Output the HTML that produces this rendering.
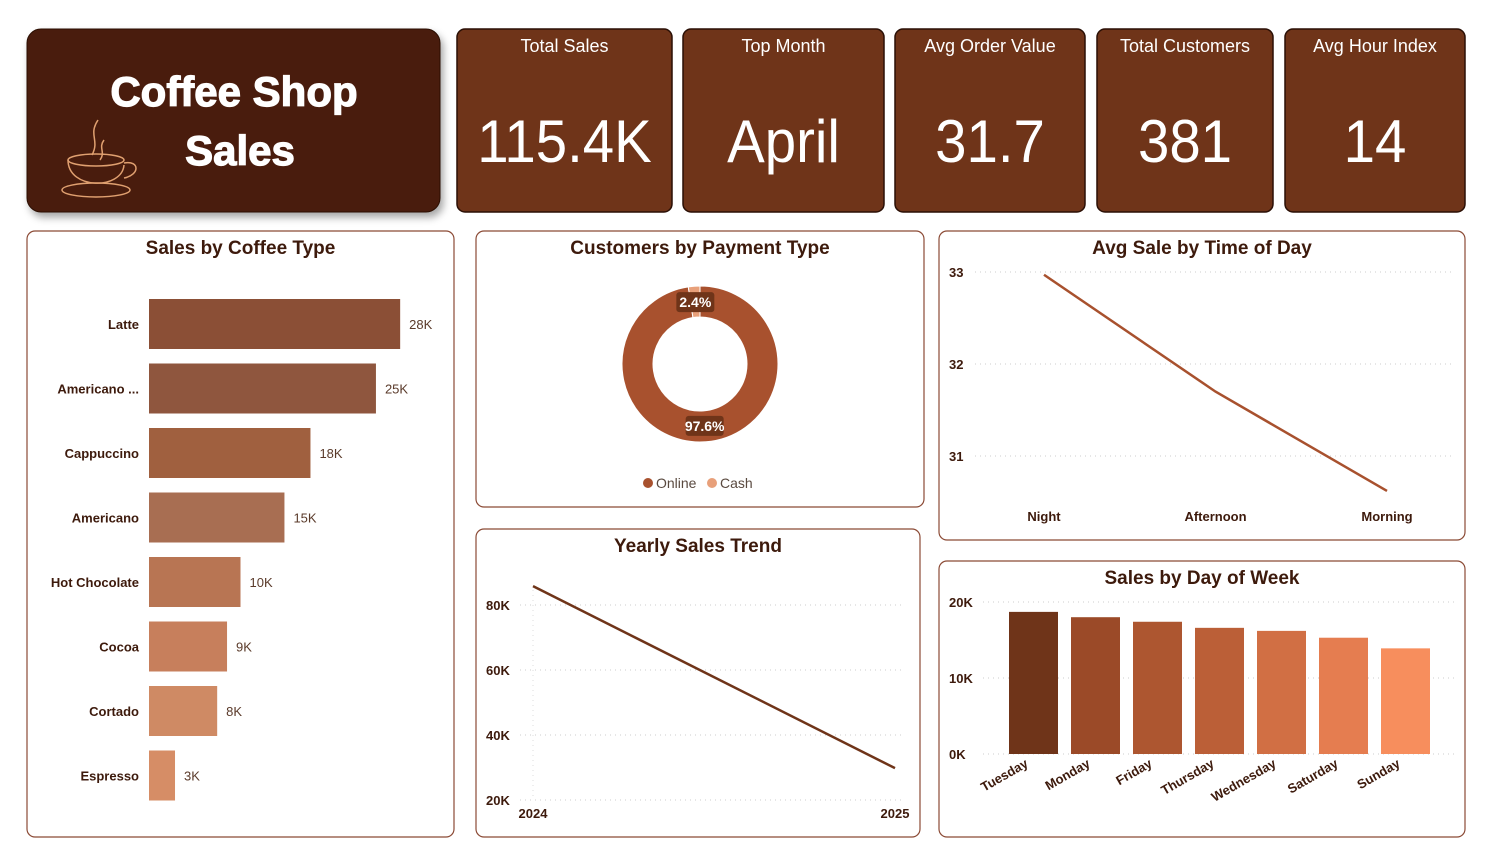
<!DOCTYPE html>
<html><head><meta charset="utf-8"><style>
body{margin:0;background:#fff;font-family:"Liberation Sans",sans-serif}
svg{display:block}
</style></head><body>
<svg id="s" width="1487" height="862" xmlns="http://www.w3.org/2000/svg" font-family="Liberation Sans, sans-serif">
<defs><filter id="sh" x="-10%" y="-10%" width="130%" height="140%"><feDropShadow dx="3" dy="5" stdDeviation="4" flood-color="#000" flood-opacity="0.35"/></filter></defs>
<g>
<rect x="27" y="29" width="413" height="183" rx="14" fill="#4a1d0c" stroke="#2a0f05" filter="url(#sh)"/>
<text x="234" y="106" text-anchor="middle" font-size="42" font-weight="bold" fill="#fff" stroke="#fff" stroke-width="1.2">Coffee Shop</text>
<text x="240" y="165" text-anchor="middle" font-size="42" font-weight="bold" fill="#fff" stroke="#fff" stroke-width="1.2">Sales</text>
<g fill="none" stroke="#e0a070" stroke-width="1.5">
<path d="M98 120 C88 135 100 140 92 155 M104 140 C98 148 106 152 100 160"/>
<path d="M68 160 C68 190 122 190 124 165"/><ellipse cx="96" cy="160" rx="28" ry="6"/>
<path d="M124 163 C140 160 140 175 124 178"/><ellipse cx="96" cy="190" rx="34" ry="7"/>
</g></g>
<g id="kpis"></g>
<g id="panels"></g>
<g id="charts"></g>
</svg>
<script>
const NS="http://www.w3.org/2000/svg";
function el(p,t,a,txt){const e=document.createElementNS(NS,t);for(const k in a)e.setAttribute(k,a[k]);if(txt!==undefined)e.textContent=txt;p.appendChild(e);return e;}
const S=document.getElementById('s');
// KPI
const kpiTitles=["Total Sales","Top Month","Avg Order Value","Total Customers","Avg Hour Index"];
const kpiValues=["115.4K","April","31.7","381","14"];
const kpiBoxes=[[457,672],[683,884],[895,1085],[1097,1273],[1285,1465]];
const K=document.getElementById('kpis');
kpiTitles.forEach((t,i)=>{const[x0,x1]=kpiBoxes[i];const g=el(K,'g',{});


el(g,'rect',{x:x0,y:29,width:x1-x0,height:183,rx:8,fill:'#6f3419',stroke:'#2a0f05','stroke-width':1.5});
el(g,'text',{x:(x0+x1)/2,y:52,'text-anchor':'middle','font-size':18,fill:'#fff'},t);
const cxk=(x0+x1)/2;
el(g,'text',{x:0,y:162,'text-anchor':'middle','font-size':60,fill:'#fff',transform:`translate(${cxk} 0) scale(0.94 1)`},kpiValues[i]);});
// panels
const panelNames=["Sales by Coffee Type","Customers by Payment Type","Avg Sale by Time of Day","Yearly Sales Trend","Sales by Day of Week"];
const panelBoxes=[[27,231,427,606],[476,231,448,276],[939,231,526,309],[476,529,444,308],[939,561,526,276]];
const P=document.getElementById('panels');
panelNames.forEach((n,i)=>{const[x,y,w,h]=panelBoxes[i];const g=el(P,'g',{});


el(g,'rect',{x,y,width:w,height:h,rx:8,fill:'#fff',stroke:'#8b4a35','stroke-width':1.2});
el(g,'text',{x:x+w/2,y:y+23,'text-anchor':'middle','font-size':19,'font-weight':'bold',fill:'#3d1a0c'},n);});
const C=document.getElementById('charts');
// Coffee type
const coffeeTypes=["Latte","Americano ...","Cappuccino","Americano","Hot Chocolate","Cocoa","Cortado","Espresso"];
const coffeeSales=[28.0,25.3,18.0,15.1,10.2,8.7,7.6,2.9];
const coffeeLabels=["28K","25K","18K","15K","10K","9K","8K","3K"];
const coffeeColors=["#8b4f36","#8f563e","#a0603f","#a86e52","#b87553","#c77f5c","#cf8a64","#d68d66"];
const cx=v=>149+v*8.97;
coffeeTypes.forEach((c,i)=>{const y=324+i*64.5;const g=el(C,'g',{});


el(g,'rect',{x:149,y:y-25,width:cx(coffeeSales[i])-149,height:50,fill:coffeeColors[i]});
el(g,'text',{x:139,y:y+5,'text-anchor':'end','font-size':13,'font-weight':'bold',fill:'#3d1a0c'},c);
el(g,'text',{x:cx(coffeeSales[i])+9,y:y+5,'font-size':13,fill:'#5a3a2a'},coffeeLabels[i]);});
// Donut
const payTypes=["Online","Cash"];
const payShares=[97.6,2.4];
const payColors=["#a8512e","#e8a07a"];
const dcx=700,dcy=364,R=78,r=47;
function arc(a0,a1){const p=(a,rr)=>[dcx+rr*Math.sin(a),dcy-rr*Math.cos(a)];const L=(a1-a0)>Math.PI?1:0;
const[a,b]=p(a0,R),[c,d]=p(a1,R),[e,f]=p(a1,r),[g,h]=p(a0,r);
return `M${a} ${b}A${R} ${R} 0 ${L} 1 ${c} ${d}L${e} ${f}A${r} ${r} 0 ${L} 0 ${g} ${h}Z`;}
let ang=0;
[0,1].forEach(i=>{const a0=ang,a1=ang+payShares[i]/100*2*Math.PI;ang=a1;
const p=el(C,'path',{d:arc(a0,a1),fill:payColors[i],stroke:'#fff','stroke-width':1});


const m=(a0+a1)/2,lx=dcx+62*Math.sin(m),ly=dcy-62*Math.cos(m);
const lab=el(C,'g',{});


el(lab,'rect',{x:lx-19,y:ly-10,width:38,height:20,rx:3,fill:'#6f3419'});
el(lab,'text',{x:lx,y:ly+5,'text-anchor':'middle','font-size':14,'font-weight':'bold',fill:'#fff'},payShares[i]+'%');});
[0,1].forEach(i=>{const x=[643,707][i];const g=el(C,'g',{});


el(g,'circle',{cx:x+5,cy:483,r:5,fill:payColors[i]});
el(g,'text',{x:x+13,y:488,'font-size':14,fill:'#5a4a40'},payTypes[i]);});
// Avg sale by time
const timeCats=["Night","Afternoon","Morning"];
const timeVals=[32.97,31.7,30.62];
const timeTicks=[31,32,33];
const ty=v=>456-(v-31)*92, tx=i=>1044+i*171.5;
timeTicks.forEach(t=>{el(C,'line',{x1:975,x2:1455,y1:ty(t),y2:ty(t),stroke:'#ccc','stroke-dasharray':'1 4'});
const l=el(C,'text',{x:949,y:ty(t)+5,'font-size':13,'font-weight':'bold',fill:'#3d1a0c'},t);

});
timeCats.forEach((c,i)=>el(C,'text',{x:tx(i),y:521,'text-anchor':'middle','font-size':13,'font-weight':'bold',fill:'#3d1a0c'},c));
const tl=el(C,'polyline',{points:timeVals.map((v,i)=>tx(i)+','+ty(v)).join(' '),fill:'none',stroke:'#a8512e','stroke-width':2.5});


// Yearly
const years=["2024","2025"];
const yearSales=[85.8,29.8];
const yearTicks=[20,40,60,80];
const yy=v=>800-(v-20)*3.25, yx=i=>533+i*362;
yearTicks.forEach(t=>{el(C,'line',{x1:520,x2:905,y1:yy(t),y2:yy(t),stroke:'#ccc','stroke-dasharray':'1 4'});
el(C,'text',{x:486,y:yy(t)+5,'font-size':13,'font-weight':'bold',fill:'#3d1a0c'},t+'K');});
el(C,'line',{x1:533,x2:533,y1:590,y2:800,stroke:'#ddd','stroke-dasharray':'1 4'});
years.forEach((c,i)=>el(C,'text',{x:yx(i),y:818,'text-anchor':'middle','font-size':13,'font-weight':'bold',fill:'#3d1a0c'},c));
const yl=el(C,'polyline',{points:yearSales.map((v,i)=>yx(i)+','+yy(v)).join(' '),fill:'none',stroke:'#6f3419','stroke-width':2.5});


// Day of week
const days=["Tuesday","Monday","Friday","Thursday","Wednesday","Saturday","Sunday"];
const daySales=[18.7,18.0,17.4,16.6,16.2,15.3,13.9];
const dayTicks=[0,10,20];
const dayColors=["#6f3419","#9b4a28","#ad5630","#bb5f37","#d16f44","#e57d50","#f78e5d"];
const dy=v=>754-v*7.6, dx=i=>1009+i*62;
dayTicks.forEach(t=>{el(C,'line',{x1:983,x2:1455,y1:dy(t),y2:dy(t),stroke:'#ccc','stroke-dasharray':'1 4'});
el(C,'text',{x:949,y:dy(t)+5,'font-size':13,'font-weight':'bold',fill:'#3d1a0c'},t+'K');});
days.forEach((d,i)=>{const b=el(C,'rect',{x:dx(i),y:dy(daySales[i]),width:49,height:dy(0)-dy(daySales[i]),fill:dayColors[i]});


el(C,'text',{x:dx(i)+20,y:766,'text-anchor':'end','font-size':13,'font-weight':'bold',fill:'#3d1a0c',transform:`rotate(-30 ${dx(i)+20} 766)`},d);});
</script>
</body></html>
